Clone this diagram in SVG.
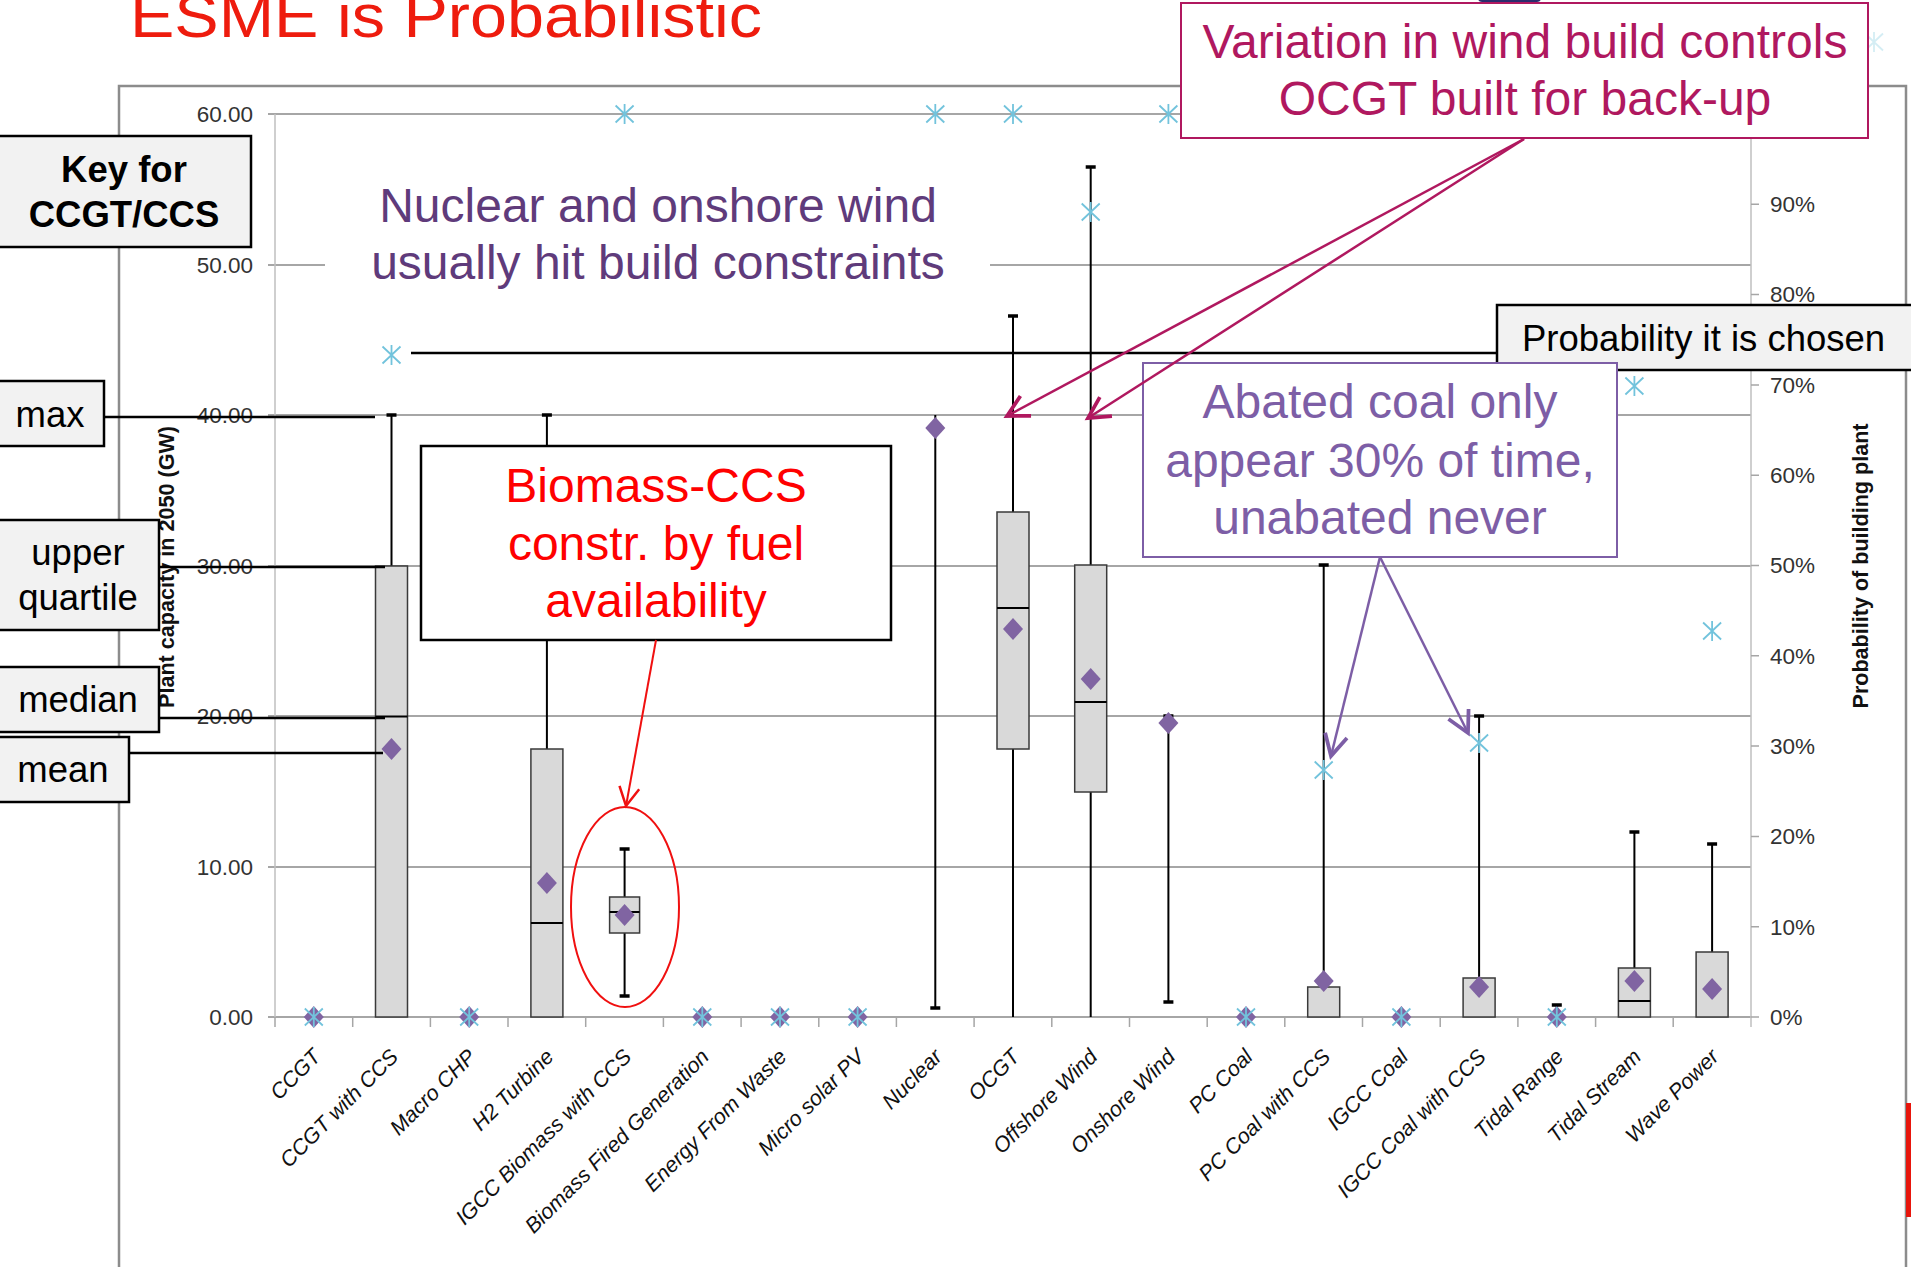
<svg xmlns="http://www.w3.org/2000/svg" xmlns:xlink="http://www.w3.org/1999/xlink" width="1911" height="1267" viewBox="0 0 1911 1267">
<style>
text{font-family:"Liberation Sans",Arial,sans-serif}
.grid{stroke:#a6a6a6;stroke-width:2}
.axis{stroke:#bfbfbf;stroke-width:1.5}
.tick{stroke:#a6a6a6;stroke-width:1.5}
.wh{stroke:#000;stroke-width:2}
.cap{stroke:#000;stroke-width:3.5}
.box{fill:#d9d9d9;stroke:#3a3a3a;stroke-width:1.5}
.med{stroke:#000;stroke-width:2}
.ylab{font-size:22.5px;fill:#333}
.ylab-l{text-anchor:end}
.xlab{font-size:21.5px;font-style:italic;fill:#111;text-anchor:end}
.atitle{font-size:21.5px;font-weight:bold;fill:#111;text-anchor:middle}
.key{fill:#f2f2f2;stroke:#000;stroke-width:2.5}
.keyt{font-size:36.5px;fill:#000;text-anchor:middle}
.keys{font-size:36.5px;fill:#000;text-anchor:start}
.kline{stroke:#000;stroke-width:2.5;fill:none}
.ann{font-size:48px;text-anchor:middle}
.star{stroke:#72c3dc;stroke-width:1.8;fill:none}
.dia{fill:#8064a2}
</style>
<defs>
<path id="st" class="star" d="M0,-10V10M-9,-8.5L9,8.5M-9,8.5L9,-8.5"/>
<path id="dm" class="dia" d="M0,-11L10,0L0,11L-10,0Z"/>
<marker id="arR" markerUnits="userSpaceOnUse" markerWidth="30" markerHeight="30" refX="0" refY="0" viewBox="-20 -12 24 24" orient="auto" overflow="visible"><path d="M-15,-8L0,0L-15,8" fill="none" stroke="#f01010" stroke-width="2"/></marker>
<marker id="arM" markerUnits="userSpaceOnUse" markerWidth="30" markerHeight="30" refX="0" refY="0" viewBox="-20 -12 24 24" orient="auto" overflow="visible"><path d="M-17,-9L0,0L-17,9" fill="none" stroke="#b0185f" stroke-width="3"/></marker>
<marker id="arP" markerUnits="userSpaceOnUse" markerWidth="30" markerHeight="30" refX="0" refY="0" viewBox="-20 -12 24 24" orient="auto" overflow="visible"><path d="M-17,-9L0,0L-17,9" fill="none" stroke="#7d5ea6" stroke-width="3"/></marker>
</defs>
<rect width="1911" height="1267" fill="#fff"/>

<g id="title"><text x="130" y="37" font-size="62" fill="#ee1c0e" textLength="632" lengthAdjust="spacingAndGlyphs">ESME is Probabilistic</text></g>
<path d="M1478,-6h63v4a4,4 0 0 1 -4,4h-55a4,4 0 0 1 -4,-4z" fill="#2b2c6e"/>

<g id="frame">
<path d="M119,1270V86H1906V1270" fill="none" stroke="#8c8c8c" stroke-width="2.5"/>
<rect x="1906" y="1103" width="5" height="114" fill="#e8160c"/>
</g>

<g id="axes">
<line class="grid" x1="268" y1="114" x2="1751" y2="114"/>
<line class="grid" x1="268" y1="265" x2="1751" y2="265"/>
<line class="grid" x1="268" y1="415" x2="1751" y2="415"/>
<line class="grid" x1="268" y1="566" x2="1751" y2="566"/>
<line class="grid" x1="268" y1="716" x2="1751" y2="716"/>
<line class="grid" x1="268" y1="867" x2="1751" y2="867"/>
<line class="grid" x1="268" y1="1017" x2="1751" y2="1017"/>
<line class="axis" x1="275" y1="114" x2="275" y2="1017"/>
<line class="axis" x1="1751" y1="114" x2="1751" y2="1027"/>
<path class="tick" d="M1751,1017h8M1751,926.7h8M1751,836.4h8M1751,746.1h8M1751,655.8h8M1751,565.5h8M1751,475.2h8M1751,384.9h8M1751,294.6h8M1751,204.3h8"/>
<path class="tick" d="M275,1017v10M352.7,1017v10M430.4,1017v10M508,1017v10M585.7,1017v10M663.4,1017v10M741.1,1017v10M818.8,1017v10M896.4,1017v10M974.1,1017v10M1051.8,1017v10M1129.5,1017v10M1207.2,1017v10M1284.8,1017v10M1362.5,1017v10M1440.2,1017v10M1517.9,1017v10M1595.6,1017v10M1673.2,1017v10"/>
<g class="ylab ylab-l">
<text x="253" y="122">60.00</text>
<text x="253" y="273">50.00</text>
<text x="253" y="423">40.00</text>
<text x="253" y="574">30.00</text>
<text x="253" y="724">20.00</text>
<text x="253" y="875">10.00</text>
<text x="253" y="1025">0.00</text>
</g>
<g class="ylab">
<text x="1770" y="1025">0%</text>
<text x="1770" y="935">10%</text>
<text x="1770" y="844">20%</text>
<text x="1770" y="754">30%</text>
<text x="1770" y="664">40%</text>
<text x="1770" y="573">50%</text>
<text x="1770" y="483">60%</text>
<text x="1770" y="393">70%</text>
<text x="1770" y="302">80%</text>
<text x="1770" y="212">90%</text>
</g>
<text class="atitle" transform="translate(174,567) rotate(-90)" textLength="282" lengthAdjust="spacingAndGlyphs">Plant capacity in 2050 (GW)</text>
<text class="atitle" transform="translate(1868,566) rotate(-90)" textLength="285" lengthAdjust="spacingAndGlyphs">Probability of building plant</text>
<g class="xlab">
<text transform="translate(322,1058) rotate(-45)">CCGT</text>
<text transform="translate(399.5,1058) rotate(-45)">CCGT with CCS</text>
<text transform="translate(477.2,1058) rotate(-45)">Macro CHP</text>
<text transform="translate(554.9,1058) rotate(-45)">H2 Turbine</text>
<text transform="translate(632.6,1058) rotate(-45)">IGCC Biomass with CCS</text>
<text transform="translate(710.3,1058) rotate(-45)">Biomass Fired Generation</text>
<text transform="translate(788,1058) rotate(-45)">Energy From Waste</text>
<text transform="translate(865.6,1058) rotate(-45)">Micro solar PV</text>
<text transform="translate(943.3,1058) rotate(-45)">Nuclear</text>
<text transform="translate(1021,1058) rotate(-45)">OCGT</text>
<text transform="translate(1098.7,1058) rotate(-45)">Offshore Wind</text>
<text transform="translate(1176.4,1058) rotate(-45)">Onshore Wind</text>
<text transform="translate(1254,1058) rotate(-45)">PC Coal</text>
<text transform="translate(1331.7,1058) rotate(-45)">PC Coal with CCS</text>
<text transform="translate(1409.4,1058) rotate(-45)">IGCC Coal</text>
<text transform="translate(1487.1,1058) rotate(-45)">IGCC Coal with CCS</text>
<text transform="translate(1564.8,1058) rotate(-45)">Tidal Range</text>
<text transform="translate(1642.4,1058) rotate(-45)">Tidal Stream</text>
<text transform="translate(1720.1,1058) rotate(-45)">Wave Power</text>
</g>
</g>

<g id="series">
<g id="s-ccgt"><use href="#dm" x="313.8" y="1017"/><use href="#st" x="313.8" y="1017"/></g>
<g id="s-ccgt-ccs">
<line class="wh" x1="391.5" y1="415" x2="391.5" y2="566"/><line class="cap" x1="386.5" y1="415" x2="396.5" y2="415"/>
<rect class="box" x="375.5" y="566" width="32" height="451"/><line class="med" x1="375.5" y1="716.5" x2="407.5" y2="716.5"/>
<use href="#dm" x="391.5" y="749"/><use href="#st" x="391.5" y="355"/></g>
<g id="s-macro-chp"><use href="#dm" x="469.2" y="1017"/><use href="#st" x="469.2" y="1017"/></g>
<g id="s-h2">
<line class="wh" x1="546.9" y1="415" x2="546.9" y2="749"/><line class="cap" x1="541.9" y1="415" x2="551.9" y2="415"/>
<rect class="box" x="530.9" y="749" width="32" height="268"/><line class="med" x1="530.9" y1="923" x2="562.9" y2="923"/>
<use href="#dm" x="546.9" y="883"/></g>
<g id="s-igcc-bio">
<line class="wh" x1="624.6" y1="849" x2="624.6" y2="996"/><line class="cap" x1="619.6" y1="849" x2="629.6" y2="849"/><line class="cap" x1="619.6" y1="996" x2="629.6" y2="996"/>
<rect class="box" x="609.6" y="897" width="30" height="36"/><line class="med" x1="609.6" y1="912" x2="639.6" y2="912"/>
<use href="#dm" x="624.6" y="915"/><use href="#st" x="624.6" y="114"/></g>
<g id="s-biomass"><use href="#dm" x="702.3" y="1017"/><use href="#st" x="702.3" y="1017"/></g>
<g id="s-efw"><use href="#dm" x="780" y="1017"/><use href="#st" x="780" y="1017"/></g>
<g id="s-pv"><use href="#dm" x="857.6" y="1017"/><use href="#st" x="857.6" y="1017"/></g>
<g id="s-nuclear">
<line class="wh" x1="935.3" y1="415" x2="935.3" y2="1008"/><line class="cap" x1="930.3" y1="1008" x2="940.3" y2="1008"/>
<use href="#dm" x="935.3" y="428"/><use href="#st" x="935.3" y="114"/></g>
<g id="s-ocgt">
<line class="wh" x1="1013" y1="316" x2="1013" y2="1017"/><line class="cap" x1="1008" y1="316" x2="1018" y2="316"/>
<rect class="box" x="997" y="512" width="32" height="237"/><line class="med" x1="997" y1="608" x2="1029" y2="608"/>
<use href="#dm" x="1013" y="629"/><use href="#st" x="1013" y="114"/></g>
<g id="s-offshore">
<line class="wh" x1="1090.7" y1="167" x2="1090.7" y2="1017"/><line class="cap" x1="1085.7" y1="167" x2="1095.7" y2="167"/>
<rect class="box" x="1074.7" y="565" width="32" height="227"/><line class="med" x1="1074.7" y1="702" x2="1106.7" y2="702"/>
<use href="#dm" x="1090.7" y="679"/><use href="#st" x="1090.7" y="212"/></g>
<g id="s-onshore">
<line class="wh" x1="1168.4" y1="716" x2="1168.4" y2="1002"/><line class="cap" x1="1163.4" y1="716" x2="1173.4" y2="716"/><line class="cap" x1="1163.4" y1="1002" x2="1173.4" y2="1002"/>
<use href="#dm" x="1168.4" y="723"/><use href="#st" x="1168.4" y="114"/></g>
<g id="s-pc-coal"><use href="#dm" x="1246" y="1017"/><use href="#st" x="1246" y="1017"/></g>
<g id="s-pc-coal-ccs">
<line class="wh" x1="1323.7" y1="565" x2="1323.7" y2="987"/><line class="cap" x1="1318.7" y1="565" x2="1328.7" y2="565"/>
<rect class="box" x="1307.7" y="987" width="32" height="30"/>
<use href="#dm" x="1323.7" y="981"/><use href="#st" x="1323.7" y="770"/></g>
<g id="s-igcc-coal"><use href="#dm" x="1401.4" y="1017"/><use href="#st" x="1401.4" y="1017"/></g>
<g id="s-igcc-coal-ccs">
<line class="wh" x1="1479.1" y1="716" x2="1479.1" y2="978"/><line class="cap" x1="1474.1" y1="716" x2="1484.1" y2="716"/>
<rect class="box" x="1463.1" y="978" width="32" height="39"/>
<use href="#dm" x="1479.1" y="987"/><use href="#st" x="1479.1" y="743"/></g>
<g id="s-tidal-range">
<line class="wh" x1="1556.8" y1="1005" x2="1556.8" y2="1017"/><line class="cap" x1="1551.8" y1="1005" x2="1561.8" y2="1005"/>
<use href="#dm" x="1556.8" y="1017"/><use href="#st" x="1556.8" y="1017"/></g>
<g id="s-tidal-stream">
<line class="wh" x1="1634.4" y1="832" x2="1634.4" y2="968"/><line class="cap" x1="1629.4" y1="832" x2="1639.4" y2="832"/>
<rect class="box" x="1618.4" y="968" width="32" height="49"/><line class="med" x1="1618.4" y1="1001" x2="1650.4" y2="1001"/>
<use href="#dm" x="1634.4" y="981"/><use href="#st" x="1634.4" y="386"/></g>
<g id="s-wave">
<line class="wh" x1="1712.1" y1="844" x2="1712.1" y2="952"/><line class="cap" x1="1707.1" y1="844" x2="1717.1" y2="844"/>
<rect class="box" x="1696.1" y="952" width="32" height="65"/>
<use href="#dm" x="1712.1" y="989"/><use href="#st" x="1712.1" y="631"/></g>
<use href="#st" x="1874" y="42" opacity="0.3"/>
</g>

<g id="note-nuclear">
<rect x="325" y="150" width="665" height="155" fill="#fff"/>
<text class="ann" fill="#5f3b7b"><tspan x="658" y="222">Nuclear and onshore wind</tspan><tspan x="658" y="279">usually hit build constraints</tspan></text>
</g>

<g id="note-biomass">
<rect x="421" y="446" width="470" height="194" fill="#fff" stroke="#000" stroke-width="2.5"/>
<text class="ann" fill="#ff0000"><tspan x="656" y="502">Biomass-CCS</tspan><tspan x="656" y="560">constr. by fuel</tspan><tspan x="656" y="617">availability</tspan></text>
</g>
<ellipse id="highlight" cx="625" cy="907" rx="54" ry="100" fill="none" stroke="#f01010" stroke-width="2"/>

<g id="key-ccgt"><rect class="key" x="-5" y="136" width="256" height="111"/><text class="keyt" font-weight="bold"><tspan x="124" y="182">Key for</tspan><tspan x="124" y="227">CCGT/CCS</tspan></text></g>
<g id="key-max"><rect class="key" x="-5" y="381" width="109" height="65"/><text class="keyt" x="50" y="427">max</text></g>
<g id="key-uq"><rect class="key" x="-5" y="520" width="164" height="110"/><text class="keyt"><tspan x="78" y="565">upper</tspan><tspan x="78" y="610">quartile</tspan></text></g>
<g id="key-median"><rect class="key" x="-5" y="667" width="164" height="65"/><text class="keyt" x="78" y="712">median</text></g>
<g id="key-mean"><rect class="key" x="-5" y="737" width="134" height="65"/><text class="keyt" x="63" y="782">mean</text></g>
<g id="key-prob"><rect class="key" x="1497" y="305" width="420" height="65"/><text class="keys" x="1522" y="351">Probability it is chosen</text></g>

<g id="note-abated">
<rect x="1143" y="363" width="474" height="194" fill="#fff" stroke="#7d5ea6" stroke-width="2"/>
<text class="ann" fill="#7d5ea6"><tspan x="1380" y="418">Abated coal only</tspan><tspan x="1380" y="477">appear 30% of time,</tspan><tspan x="1380" y="534">unabated never</tspan></text>
</g>

<g id="note-variation">
<rect x="1181" y="3" width="687" height="135" fill="#fff" stroke="#b0185f" stroke-width="2"/>
<text class="ann" fill="#b0185f"><tspan x="1525" y="58">Variation in wind build controls</tspan><tspan x="1525" y="115">OCGT built for back-up</tspan></text>
</g>

<g id="connectors">
<line class="kline" x1="104" y1="417" x2="375" y2="417"/>
<line class="kline" x1="159" y1="567" x2="385" y2="567"/>
<line class="kline" x1="159" y1="718" x2="385" y2="718"/>
<line class="kline" x1="129" y1="753" x2="383" y2="753"/>
<line class="kline" x1="411" y1="353" x2="1497" y2="353"/>
<line x1="656" y1="640" x2="626" y2="806" stroke="#f01010" stroke-width="2" marker-end="url(#arR)"/>
<line x1="1524" y1="139" x2="1007" y2="416" stroke="#b0185f" stroke-width="2.5" marker-end="url(#arM)"/>
<line x1="1524" y1="139" x2="1088" y2="418" stroke="#b0185f" stroke-width="2.5" marker-end="url(#arM)"/>
<line x1="1380" y1="557" x2="1331" y2="756" stroke="#7d5ea6" stroke-width="2.5" marker-end="url(#arP)"/>
<line x1="1380" y1="557" x2="1468" y2="733" stroke="#7d5ea6" stroke-width="2.5" marker-end="url(#arP)"/>
</g>
</svg>
